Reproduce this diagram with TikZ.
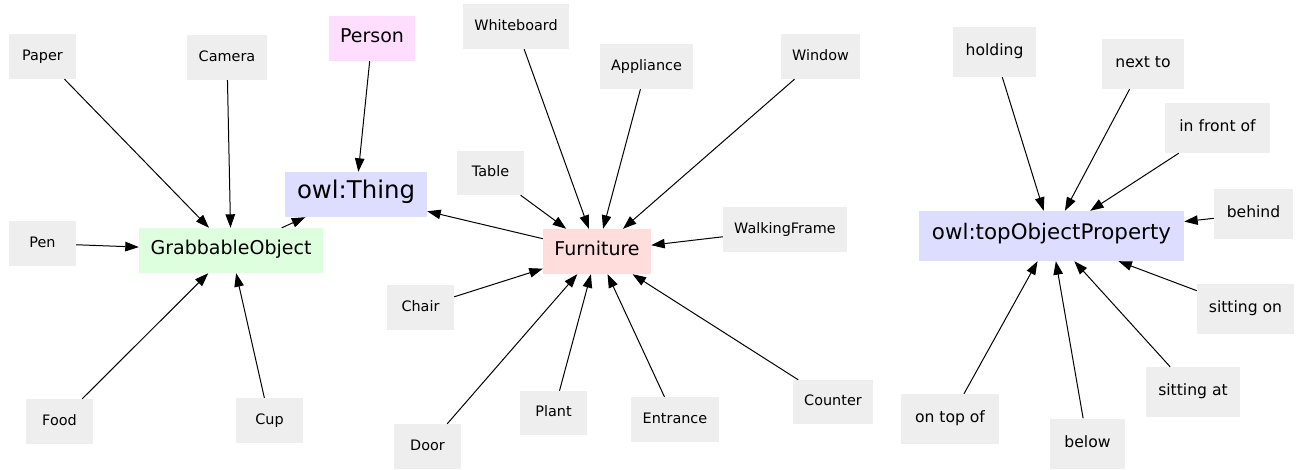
\documentclass[tikz,border=0pt]{standalone}
\usepackage{fontspec}
\setmainfont{DejaVu Sans}
\usetikzlibrary{arrows.meta}
\definecolor{boxgrey}{HTML}{EEEEEE}
\definecolor{thingblue}{HTML}{DDDDFF}
\definecolor{grabgreen}{HTML}{DDFFDD}
\definecolor{personpink}{HTML}{FFDDFF}
\definecolor{furnred}{HTML}{FFDDDD}
\begin{document}
\begin{tikzpicture}[x=1pt,y=-1pt,
  base/.style={draw=none, inner sep=0pt, text height=0.98em, text depth=0.22em, minimum height=45pt},
  sm/.style={base, fill=boxgrey, font=\fontsize{14.4}{17}\selectfont},
  rt/.style={base, fill=boxgrey, minimum height=50pt, font=\fontsize{15.6}{18}\selectfont},
  mid/.style={base, font=\fontsize{19}{22}\selectfont},
  link/.style={-{Triangle[length=13.5pt,width=9.5pt]}, line width=1pt},
]
\useasboundingbox (0,0) rectangle (1299,469);
% hubs
\node[mid, fill=grabgreen, minimum width=184pt] (grab) at (231,250.5) {GrabbableObject};
\node[mid, fill=personpink, minimum width=86pt] (person) at (372,38.5) {Person};
\node[base, fill=thingblue, minimum width=142pt, font=\fontsize{24.4}{28}\selectfont] (thing) at (356,194.5) {owl:Thing};
\node[mid, fill=furnred, minimum width=108pt] (furn) at (597,251.5) {Furniture};
\node[base, fill=thingblue, minimum width=265pt, minimum height=50pt, font=\fontsize{21.4}{25}\selectfont] (top) at (1051.5,236) {owl:topObjectProperty};
% grabbable children
\node[sm, minimum width=67pt] (paper) at (42.5,56.5) {Paper};
\node[sm, minimum width=80pt] (camera) at (227,57.5) {Camera};
\node[sm, minimum width=67pt] (pen) at (42.5,243.5) {Pen};
\node[sm, minimum width=67pt] (food) at (59.5,421.5) {Food};
\node[sm, minimum width=67pt] (cup) at (269.5,420.5) {Cup};
% furniture children
\node[sm, minimum width=106pt] (white) at (516,26.5) {Whiteboard};
\node[sm, minimum width=93pt] (appl) at (646.5,66.5) {Appliance};
\node[sm, minimum width=79pt] (window) at (820.5,56.5) {Window};
\node[sm, minimum width=67pt, minimum height=44pt] (table) at (490.5,173) {Table};
\node[sm, minimum width=124pt] (walk) at (785,229.5) {WalkingFrame};
\node[sm, minimum width=67pt] (chair) at (420.5,307.5) {Chair};
\node[sm, minimum width=67pt] (door) at (427.5,446.5) {Door};
\node[sm, minimum width=67pt, minimum height=44pt] (plant) at (553.5,413) {Plant};
\node[sm, minimum width=88pt] (entr) at (675,419.5) {Entrance};
\node[sm, minimum width=80pt, minimum height=44pt] (counter) at (833,402) {Counter};
% properties
\node[rt, minimum width=83pt] (holding) at (994.5,52) {holding};
\node[rt, minimum width=82pt] (nextto) at (1143,64) {next to};
\node[rt, minimum width=105pt] (front) at (1217.5,128) {in front of};
\node[rt, minimum width=79pt] (behind) at (1253.5,214) {behind};
\node[rt, minimum width=97pt] (sitton) at (1245.5,309) {sitting on};
\node[rt, minimum width=94pt] (sittat) at (1193,392) {sitting at};
\node[rt, minimum width=98pt] (ontop) at (950,419) {on top of};
\node[rt, minimum width=75pt] (below) at (1087.5,443.5) {below};
% edges
\foreach \n in {paper,camera,pen,food,cup} \draw[link] (\n) -- (grab);
\draw[link] (grab) -- (thing);
\draw[link] (person) -- (thing);
\draw[link] (furn) -- (thing);
\foreach \n in {white,appl,window,table,walk,chair,door,plant,entr,counter} \draw[link] (\n) -- (furn);
\foreach \n in {holding,nextto,front,behind,sitton,sittat,ontop,below} \draw[link] (\n) -- (top);
\end{tikzpicture}
\end{document}
